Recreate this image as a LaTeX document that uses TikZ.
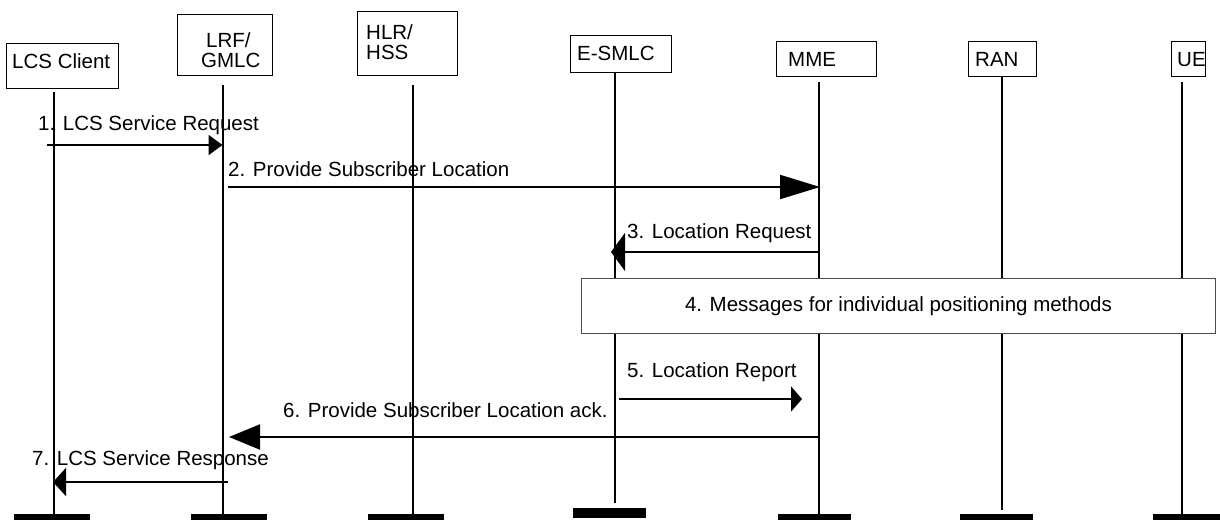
\documentclass[tikz,border=0pt]{standalone}
\usepackage{fontspec}
\setmainfont{Liberation Sans}
\usetikzlibrary{arrows.meta}
\begin{document}
\begin{tikzpicture}[x=1pt,y=-1pt,
  hdr/.style={draw, line width=0.9pt, inner sep=0pt, anchor=north west},
  lbl/.style={font=\fontsize{20.5}{22}\selectfont, inner sep=0pt, anchor=base west},
  life/.style={line width=2pt},
  msg/.style={line width=2pt},
  barbox/.style={fill=black, draw=none}]
\useasboundingbox (0,0) rectangle (1220,520);
% header boxes
\node[hdr, minimum width=112pt, minimum height=45pt] (lcsbox) at (6,43) {};
\node[hdr, minimum width=95pt, minimum height=61pt] (lrfbox) at (177,14) {};
\node[hdr, minimum width=100pt, minimum height=64pt] (hlrbox) at (357,11) {};
\node[hdr, minimum width=101pt, minimum height=37pt] (esbox) at (570,35) {};
\node[hdr, minimum width=100pt, minimum height=35pt] (mmebox) at (776,41) {};
\node[hdr, minimum width=68pt, minimum height=35pt] (ranbox) at (968,41) {};
\node[hdr, minimum width=34pt, minimum height=35pt] (uebox) at (1171,41) {};
% header labels
\node[lbl] (lcst) at (12,68) {LCS Client};
\node[lbl] (lrft1) at (206,47) {LRF/};
\node[lbl] (lrft2) at (201,67) {GMLC};
\node[lbl] (hlrt1) at (366,39) {HLR/};
\node[lbl] (hlrt2) at (366,59) {HSS};
\node[lbl] (est) at (577,60) {E-SMLC};
\node[lbl] (mmet) at (788,66) {MME};
\node[lbl] (rant) at (975,66) {RAN};
\node[lbl] (uet) at (1177,66) {UE};
% lifeline coordinates
\coordinate (lcsT) at (53.5,92);  \coordinate (lcsB) at (53.5,514);
\coordinate (lrfT) at (222.5,85); \coordinate (lrfB) at (222.5,514);
\coordinate (hlrT) at (413,85);   \coordinate (hlrB) at (413,514);
\coordinate (esT) at (615,72);    \coordinate (esB) at (615,503);
\coordinate (mmeT) at (819,82);   \coordinate (mmeB) at (819,514);
\coordinate (ranT) at (1001.5,76);\coordinate (ranB) at (1001.5,510);
\coordinate (ueT) at (1182,82);   \coordinate (ueB) at (1182,514);
\foreach \l in {lcs,lrf,hlr,es,mme,ran,ue}{\draw[life] (\l T) -- (\l B);}
% bottom bars
\fill[barbox] (14,514) rectangle (90,520);
\fill[barbox] (191,514) rectangle (267,520);
\fill[barbox] (368,514) rectangle (444,520);
\fill[barbox] (573,508) rectangle (646,518);
\fill[barbox] (778,514) rectangle (851,520);
\fill[barbox] (960,514) rectangle (1033,520);
\fill[barbox] (1153,514) rectangle (1220,520);
% box 4
\node[draw=black!70, line width=1pt, fill=white, minimum width=634pt, minimum height=55pt, inner sep=0pt,
  anchor=north west, font=\fontsize{20.5}{22}\selectfont] (pos) at (581,278) {4. Messages for individual positioning methods};
% messages
\coordinate (m1s) at (47,145);   \coordinate (m1e) at (222.5,145);
\coordinate (m2s) at (228,187);  \coordinate (m2e) at (820,187);
\coordinate (m3s) at (819,252);  \coordinate (m3e) at (611,252);
\coordinate (m5s) at (619,399);  \coordinate (m5e) at (802,399);
\coordinate (m6s) at (819,437);  \coordinate (m6e) at (229,437);
\coordinate (m7s) at (228,482);  \coordinate (m7e) at (53,482);
\draw[msg, -{Triangle[length=14pt,width=20pt]}] (m1s) -- (m1e);
\draw[msg, -{Triangle[length=40pt,width=24pt]}] (m2s) -- (m2e);
\draw[msg, -{Triangle[length=14pt,width=38pt]}] (m3s) -- (m3e);
\draw[msg, -{Triangle[length=11pt,width=25pt]}] (m5s) -- (m5e);
\draw[msg, -{Triangle[length=31pt,width=25pt]}] (m6s) -- (m6e);
\draw[msg, -{Triangle[length=13pt,width=28pt]}] (m7s) -- (m7e);
% message labels
\node[lbl] (t1) at (38,130) {1. LCS Service Request};
\node[lbl] (t2) at (228,176) {2. Provide Subscriber Location};
\node[lbl] (t3) at (627,238) {3. Location Request};
\node[lbl] (t5) at (627,377) {5. Location Report};
\node[lbl] (t6) at (283,417) {6. Provide Subscriber Location ack.};
\node[lbl] (t7) at (32,465) {7. LCS Service Response};
\end{tikzpicture}
\end{document}
